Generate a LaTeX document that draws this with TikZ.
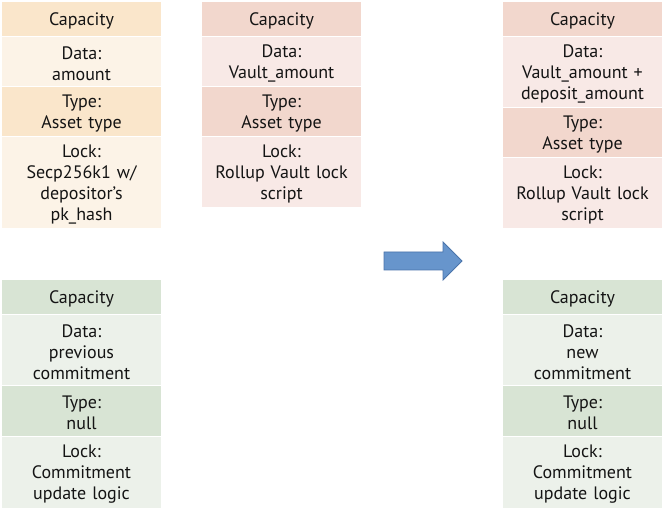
\documentclass[tikz,border=0pt]{standalone}
\usepackage{fontspec}
\setmainfont{PT Sans}
\definecolor{orH}{HTML}{FAE6CB}
\definecolor{orL}{HTML}{FCF3E7}
\definecolor{rdH}{HTML}{F2D7CD}
\definecolor{rdL}{HTML}{F8E9E6}
\definecolor{grH}{HTML}{D8E4D4}
\definecolor{grL}{HTML}{ECF1EA}
\definecolor{arF}{HTML}{6795CC}
\definecolor{arD}{HTML}{4A74AA}
\definecolor{txt}{HTML}{141414}
\tikzset{
  cell/.style={rectangle, inner sep=0pt, outer sep=0pt, minimum width=159pt},
  celltext/.style={inner sep=0pt, text width=157pt, align=center, text=txt,
    font=\fontsize{18pt}{21pt}\selectfont},
  bigarrow/.style={draw=arD, fill=arF, line width=0.8pt, line join=miter},
}
% \cellbox{name}{xcenter}{ytop}{ybottom}{colour}{text}
\newcommand{\cellbox}[6]{%
  \node[cell, fill=#5, minimum height={(#4-#3)*1pt}] (#1) at (#2pt,{-(#3+#4)/2*1pt}) {};%
  \node[celltext] (#1t) at ([yshift=-2pt]#1.center) {#6};%
}
\begin{document}
\begin{tikzpicture}[x=1pt,y=1pt]
\useasboundingbox[fill=white] (0,0) rectangle (665,-510);
% column 1 (input cell)
\cellbox{a1}{81.5}{2}{36}{orH}{Capacity}
\cellbox{a2}{81.5}{37}{86}{orL}{Data:\\amount}
\cellbox{a3}{81.5}{87}{136}{orH}{Type:\\Asset type}
\cellbox{a4}{81.5}{137}{228}{orL}{Lock:\\Secp256k1 w/\\depositor’s\\pk\_hash}
% column 2 (vault)
\cellbox{b1}{281.5}{2}{36}{rdH}{Capacity}
\cellbox{b2}{281.5}{37}{86}{rdL}{Data:\\Vault\_amount}
\cellbox{b3}{281.5}{87}{136}{rdH}{Type:\\Asset type}
\cellbox{b4}{281.5}{137}{207}{rdL}{Lock:\\Rollup Vault lock\\script}
% column 3 (new vault)
\cellbox{c1}{582.5}{2}{36}{rdH}{Capacity}
\cellbox{c2}{582.5}{37}{107}{rdL}{Data:\\Vault\_amount +\\deposit\_amount}
\cellbox{c3}{582.5}{108}{157}{rdH}{Type:\\Asset type}
\cellbox{c4}{582.5}{158}{228}{rdL}{Lock:\\Rollup Vault lock\\script}
% bottom left (commitment)
\cellbox{d1}{81.5}{280}{314}{grH}{Capacity}
\cellbox{d2}{81.5}{315}{385}{grL}{Data:\\previous\\commitment}
\cellbox{d3}{81.5}{386}{436}{grH}{Type:\\null}
\cellbox{d4}{81.5}{437}{508}{grL}{Lock:\\Commitment\\update logic}
% bottom right (new commitment)
\cellbox{e1}{582.5}{280}{314}{grH}{Capacity}
\cellbox{e2}{582.5}{315}{385}{grL}{Data:\\new\\commitment}
\cellbox{e3}{582.5}{386}{436}{grH}{Type:\\null}
\cellbox{e4}{582.5}{437}{508}{grL}{Lock:\\Commitment\\update logic}
% block arrow
\coordinate (arr) at (423,-261);
\draw[bigarrow] (384,-252) -- (443,-252) -- (443,-242) -- (462,-261)
  -- (443,-280) -- (443,-270) -- (384,-270) -- cycle;
\end{tikzpicture}
\end{document}
